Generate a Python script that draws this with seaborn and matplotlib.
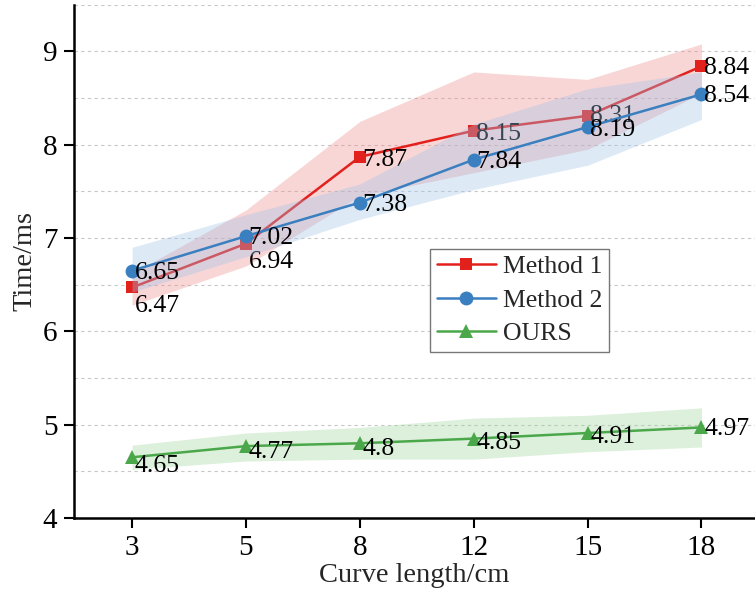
import numpy as np
import pandas as pd
import matplotlib
matplotlib.use("Agg")
import matplotlib.pyplot as plt
import seaborn as sns
from matplotlib.ticker import MultipleLocator

sns.set_theme(style="white")
plt.rcParams['font.family'] = ['Liberation Serif', 'DejaVu Serif']
plt.rcParams['mathtext.fontset'] = 'stix'

categories = ["3", "5", "8", "12", "15", "18"]
method1 = [6.47, 6.94, 7.87, 8.15, 8.31, 8.84]
method1_low = [6.28, 6.70, 7.45, 7.70, 7.95, 8.55]
method1_high = [6.62, 7.30, 8.25, 8.78, 8.70, 9.08]
method2 = [6.65, 7.02, 7.38, 7.84, 8.19, 8.54]
method2_low = [6.42, 6.80, 7.20, 7.52, 7.78, 8.27]
method2_high = [6.90, 7.25, 7.58, 8.22, 8.60, 8.78]
ours = [4.65, 4.77, 4.80, 4.85, 4.91, 4.97]
ours_low = [4.52, 4.61, 4.63, 4.63, 4.71, 4.76]
ours_high = [4.78, 4.91, 4.97, 5.07, 5.10, 5.18]

series_names = ["Method 1", "Method 2", "OURS"]
colors = {"Method 1": "#e3211c", "Method 2": "#3a7fbf", "OURS": "#4aa84a"}
band_colors = {"Method 1": "#f08a8a", "Method 2": "#9fc3e8", "OURS": "#9fd49c"}
markers = {"Method 1": "s", "Method 2": "o", "OURS": "^"}
msizes = {"Method 1": 9, "Method 2": 10, "OURS": 10}

pos = np.arange(len(categories))
df = pd.DataFrame({"pos": pos, "Method 1": method1, "Method 2": method2, "OURS": ours})
bands = {"Method 1": (method1_low, method1_high),
         "Method 2": (method2_low, method2_high),
         "OURS": (ours_low, ours_high)}

# label offsets (points): default right & slightly below
offsets = {
    "Method 1": [(2, -13), (2, -13), (2, -2), (2, -2), (2, 0), (2, -1)],
    "Method 2": [(2, -2), (2, -1), (2, -2), (2, -2), (2, -2), (2, -1)],
    "OURS": [(2, -6), (2, -4), (2, -4), (2, -3), (2, -3), (2, -1)],
}

fig = plt.figure(figsize=(7.55, 5.96), dpi=100)
ax = fig.add_axes([0.098, 0.131, 0.902, 0.861])

base_z = {"Method 1": 2, "Method 2": 5, "OURS": 8}
for name in series_names:
    z = base_z[name]
    lo, hi = bands[name]
    ax.fill_between(pos, lo, hi, color=band_colors[name], alpha=0.35, linewidth=0, zorder=z)
    sns.lineplot(data=df, x="pos", y=name, ax=ax, color=colors[name], marker=markers[name],
                 markersize=msizes[name], markeredgewidth=0, linewidth=1.8, label=name,
                 zorder=z + 1)
    for i, v in enumerate(df[name]):
        dx, dy = offsets[name][i]
        ax.annotate(f"{v:g}", (pos[i], v), xytext=(dx, dy), textcoords="offset points",
                    ha="left", va="center", fontsize=18.5, color="black", zorder=z + 1)

ax.set_xlim(-0.51, 5.47)
ax.set_ylim(4, 9.5)
ax.set_xticks(pos)
ax.set_xticklabels(categories)
ax.yaxis.set_major_locator(MultipleLocator(1))
ax.yaxis.set_minor_locator(MultipleLocator(0.5))
ax.set_yticks([4, 5, 6, 7, 8, 9])

ax.grid(True, which="both", axis="y", linestyle=(0, (3, 3)), color="#c8c8c8", linewidth=0.8)
ax.grid(False, axis="x")
ax.set_axisbelow(True)

for s in ["top", "right"]:
    ax.spines[s].set_visible(False)
for s in ["left", "bottom"]:
    ax.spines[s].set_color("black")
    ax.spines[s].set_linewidth(1.8)

ax.tick_params(axis="both", which="major", direction="out", length=7, width=1.5,
               labelsize=21, colors="black", left=True, bottom=True, pad=5)
ax.tick_params(axis="y", which="minor", length=0)

ax.set_xlabel("Curve length/cm", fontsize=20.5, labelpad=2)
ax.set_ylabel("Time/ms", fontsize=20.5, labelpad=4)

leg = ax.legend(loc="upper left", bbox_to_anchor=(0.523, 0.525), fontsize=18.5,
                frameon=True, fancybox=False, edgecolor="#777777", framealpha=1,
                handlelength=2.3, borderpad=0.25, labelspacing=0.42, handletextpad=0.3,
                borderaxespad=0)
leg.get_frame().set_linewidth(1.0)
leg.set_zorder(20)

fig.savefig("out.png", dpi=100)
